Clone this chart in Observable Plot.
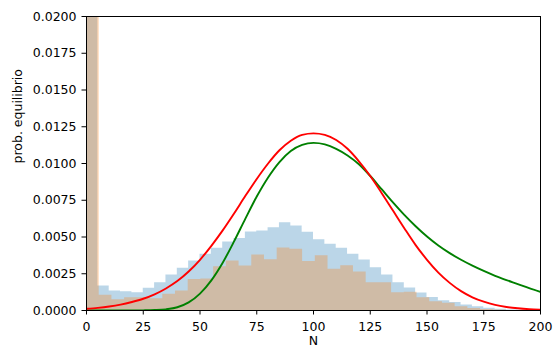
<!DOCTYPE html>
<html>
<head>
<meta charset="utf-8">
<script src="https://cdn.jsdelivr.net/npm/d3@7"></script>
<script src="https://cdn.jsdelivr.net/npm/@observablehq/plot@0.6"></script>
<style>
  html, body { margin: 0; padding: 0; background: #fff; }
</style>
</head>
<body>
<div id="chart"></div>
<script>
// ---- data ----
// blue histogram: bins of width 5 starting at 0 (first bin off-chart)
const blueBinWidth = 5;
const blueHeights = [0.05, 0.00167, 0.00133, 0.00128, 0.00121, 0.00151, 0.00189, 0.00241, 0.00287, 0.00337,
  0.00382, 0.00423, 0.00466, 0.00489, 0.00534, 0.00541, 0.00563, 0.00597, 0.00575, 0.00532,
  0.00482, 0.00450, 0.00423, 0.00382, 0.00344, 0.00291, 0.00241, 0.00189, 0.00153, 0.00119,
  0.00089, 0.00067, 0.00055, 0.00037, 0.00026, 0.00015, 0.00008, 0.00004, 0.00002, 0.0];
// orange histogram: bins of width 5.6 starting at 0 (first bin off-chart)
const orangeBinWidth = 5.6;
const orangeHeights = [0.05, 0.00104, 0.00073, 0.00087, 0.00087, 0.00080, 0.00110, 0.00133, 0.00211, 0.00214,
  0.00298, 0.00337, 0.00303, 0.00378, 0.00346, 0.00425, 0.00416, 0.00333, 0.00373, 0.00280,
  0.00305, 0.00262, 0.00189, 0.00189, 0.00121, 0.00125, 0.00087, 0.00059, 0.00050, 0.00025,
  0.00013, 0.00006, 0.00003, 0.0, 0.0, 0.0];
// curves sampled at these N values
const curveX = [0, 5, 10, 15, 20, 25, 30, 35, 40, 45, 50, 55, 60, 65, 70, 75, 80, 85, 90, 95, 100,
  105, 110, 115, 120, 125, 130, 135, 140, 145, 150, 155, 160, 165, 170, 175, 180, 185, 190, 195, 200];
const redY = [0.00012, 0.00018, 0.00027, 0.00040, 0.00058, 0.00080, 0.00110, 0.00150, 0.00200, 0.00265,
  0.00345, 0.00440, 0.00545, 0.00660, 0.00780, 0.00895, 0.01000, 0.01090, 0.01155, 0.01195, 0.01205,
  0.01195, 0.01160, 0.01100, 0.01015, 0.00915, 0.00800, 0.00680, 0.00560, 0.00445, 0.00345,
  0.00258, 0.00188, 0.00132, 0.00090, 0.00060, 0.00038, 0.00024, 0.00015, 0.00009, 0.00006];
const greenY = [0.0, 0.0, 0.0, 0.0, 0.0, 0.00001, 0.00003, 0.00008, 0.00022, 0.00055,
  0.00115, 0.00205, 0.00325, 0.00470, 0.00625, 0.00775, 0.00905, 0.01010, 0.01085, 0.01127, 0.01140,
  0.01130, 0.01100, 0.01055, 0.00995, 0.00915, 0.00825, 0.00735, 0.00650, 0.00573, 0.00503,
  0.00442, 0.00390, 0.00345, 0.00305, 0.00269, 0.00236, 0.00207, 0.00180, 0.00152, 0.00126];
const xTicks = [0, 25, 50, 75, 100, 125, 150, 175, 200];
const yTicks = [0, 0.0025, 0.005, 0.0075, 0.01, 0.0125, 0.015, 0.0175, 0.02];
const xLabel = "N";
const yLabel = "prob. equilibrio";

// ---- build tables ----
function stepTable(heights, w) {
  const pts = heights.map((h, i) => ({x: i * w, y: h}));
  pts.push({x: heights.length * w, y: 0});
  return pts;
}
const blueSteps = stepTable(blueHeights, blueBinWidth);
const orangeSteps = stepTable(orangeHeights, orangeBinWidth);
const red = curveX.map((x, i) => ({x, y: redY[i]}));
const green = curveX.map((x, i) => ({x, y: greenY[i]}));

const chart = Plot.plot({
  width: 554,
  height: 354,
  marginLeft: 86,
  marginRight: 14,
  marginTop: 16,
  marginBottom: 44,
  x: {domain: [0, 200]},
  y: {domain: [0, 0.02]},
  style: {fontFamily: "DejaVu Sans", fontSize: "12.5px", color: "black", background: "white"},
  marks: [
    Plot.areaY(blueSteps, {x: "x", y: "y", curve: "step-after", fill: "#1f77b4", fillOpacity: 0.3, clip: true}),
    Plot.areaY(orangeSteps, {x: "x", y: "y", curve: "step-after", fill: "#ff7f0e", fillOpacity: 0.3, clip: true}),
    Plot.line(green, {x: "x", y: "y", stroke: "green", strokeWidth: 1.9, curve: "monotone-x", clip: true}),
    Plot.line(red, {x: "x", y: "y", stroke: "red", strokeWidth: 1.9, curve: "monotone-x", clip: true}),
    Plot.frame({stroke: "black", strokeWidth: 1}),
    Plot.axisX({ticks: xTicks, tickSize: 4.5, tickPadding: 7, tickFormat: d3.format("d"), label: null}),
    Plot.axisY({ticks: yTicks, tickSize: 4.5, tickPadding: 5.5, tickFormat: d3.format(".4f"), label: null}),
    Plot.text([xLabel], {text: d => d, frameAnchor: "bottom", dy: 34}),
    Plot.text([yLabel], {text: d => d, frameAnchor: "left", dx: -69, rotate: -90})
  ]
});
document.getElementById("chart").appendChild(chart);
</script>
</body>
</html>
